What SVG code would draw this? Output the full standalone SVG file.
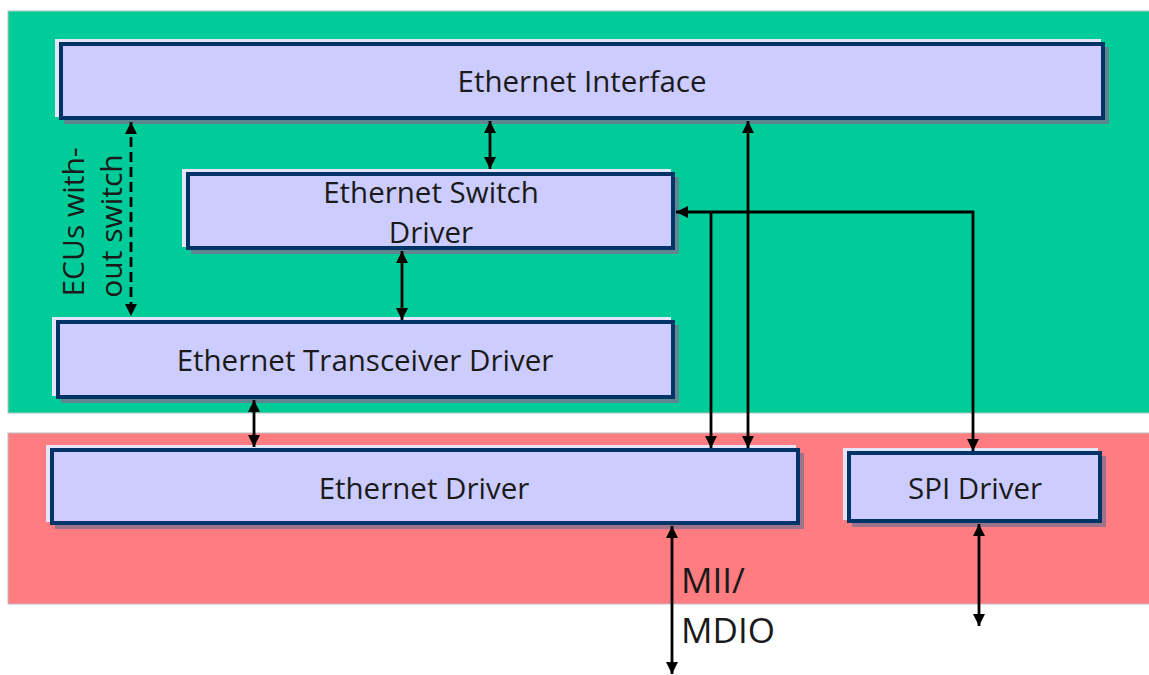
<svg xmlns="http://www.w3.org/2000/svg" width="1149" height="675" viewBox="0 0 1149 675">
<style>
.bg{stroke:#bdbdbd;stroke-width:1}
.hl{fill:#e4e4fa}
.sh{fill:#7d6f8f;opacity:0.75}
.box{fill:#ccccff;stroke:#003366;stroke-width:4}
.t{font-family:"Open Sans","Noto Sans","Liberation Sans",sans-serif;font-size:29.5px;fill:#1a1a1a;text-anchor:middle}
.lbl{font-family:"Open Sans","Noto Sans","Liberation Sans",sans-serif;fill:#1a1a1a}
.c{fill:none;stroke:#000;stroke-width:2.8}
.d{stroke-dasharray:10 5}
</style>
<defs>
<marker id="ah" viewBox="0 0 10 10" refX="10" refY="5" markerWidth="4.4" markerHeight="4.4" markerUnits="strokeWidth" orient="auto-start-reverse">
<path d="M0,0 L10,5 L0,10 z" fill="#000"/>
</marker>
</defs>
<rect class="bg" x="8" y="11" width="1142" height="402" fill="#00cc99"/>
<rect class="bg" x="8" y="433" width="1142" height="171" fill="#ff7c80"/>

<g id="ethernet-interface">
<rect class="hl" x="55" y="39" width="1046" height="78"/>
<rect class="sh" x="64" y="47" width="1045" height="77"/>
<rect class="box" x="61" y="44" width="1042" height="74"/>
<text class="t" x="582" y="92">Ethernet Interface</text>
</g>
<g id="ethernet-switch-driver">
<rect class="hl" x="182" y="169" width="489" height="78"/>
<rect class="sh" x="191" y="177" width="488" height="77"/>
<rect class="box" x="188" y="174" width="485" height="74"/>
<text class="t" x="431" y="203">Ethernet Switch</text>
<text class="t" x="431" y="243">Driver</text>
</g>
<g id="ethernet-transceiver-driver">
<rect class="hl" x="52" y="317" width="619" height="79"/>
<rect class="sh" x="61" y="325" width="618" height="78"/>
<rect class="box" x="58" y="322" width="615" height="75"/>
<text class="t" x="365" y="371">Ethernet Transceiver Driver</text>
</g>
<g id="ethernet-driver">
<rect class="hl" x="46" y="445" width="750" height="77"/>
<rect class="sh" x="55" y="453" width="749" height="76"/>
<rect class="box" x="52" y="450" width="746" height="73"/>
<text class="t" x="424" y="499">Ethernet Driver</text>
</g>
<g id="spi-driver">
<rect class="hl" x="843" y="448" width="255" height="72"/>
<rect class="sh" x="852" y="456" width="254" height="71"/>
<rect class="box" x="849" y="453" width="251" height="68"/>
<text class="t" x="975" y="499">SPI Driver</text>
</g>

<g id="connectors">
<line class="c d" x1="131" y1="122" x2="131" y2="316" marker-start="url(#ah)" marker-end="url(#ah)"/>
<line class="c" x1="490" y1="121" x2="490" y2="169" marker-start="url(#ah)" marker-end="url(#ah)"/>
<line class="c" x1="402" y1="251" x2="402" y2="320" marker-start="url(#ah)" marker-end="url(#ah)"/>
<line class="c" x1="254" y1="400" x2="254" y2="447" marker-start="url(#ah)" marker-end="url(#ah)"/>
<line class="c" x1="748" y1="121" x2="748" y2="448" marker-start="url(#ah)" marker-end="url(#ah)"/>
<polyline class="c" points="973,451 973,212 676,212" marker-start="url(#ah)" marker-end="url(#ah)"/>
<line class="c" x1="711" y1="212" x2="711" y2="448" marker-end="url(#ah)"/>
<line class="c" x1="672" y1="526" x2="672" y2="674" marker-start="url(#ah)" marker-end="url(#ah)"/>
<line class="c" x1="979" y1="524" x2="979" y2="626" marker-start="url(#ah)" marker-end="url(#ah)"/>
</g>

<g id="labels">
<text class="lbl" font-size="30" text-anchor="middle" transform="translate(84,222) rotate(-90)">ECUs with-</text>
<text class="lbl" font-size="30" text-anchor="middle" transform="translate(122,226) rotate(-90)">out switch</text>
<text class="lbl" font-size="35" x="681" y="593">MII/</text>
<text class="lbl" font-size="35" x="681" y="643">MDIO</text>
</g>
</svg>
